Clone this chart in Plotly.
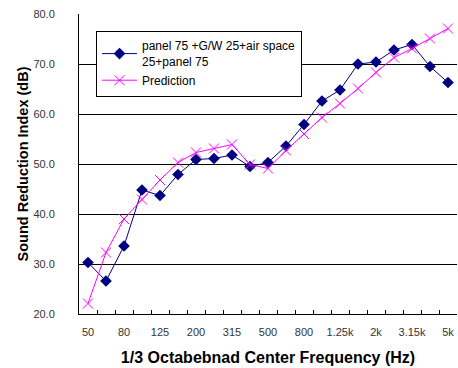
import plotly.graph_objects as go

freqs = ["50", "63", "80", "100", "125", "160", "200", "250", "315", "400", "500",
         "630", "800", "1k", "1.25k", "1.6k", "2k", "2.5k", "3.15k", "4k", "5k"]
measured = [30.3, 26.6, 33.6, 44.8, 43.7, 47.9, 50.9, 51.1, 51.8, 49.5, 50.3,
            53.6, 57.9, 62.6, 64.8, 70.0, 70.4, 72.8, 73.9, 69.5, 66.3]
prediction = [22.1, 32.3, 39.0, 42.9, 46.8, 50.3, 52.3, 53.1, 53.9, 49.9, 49.1,
              52.7, 56.0, 59.3, 62.1, 65.1, 68.3, 71.3, 73.1, 75.1, 77.1]
tick_text = [f if i % 2 == 0 else "" for i, f in enumerate(freqs)]

fig = go.Figure()
fig.add_trace(go.Scatter(
    x=freqs, y=measured, mode="lines+markers",
    name="panel 75 +G/W 25+air space<br>25+panel 75",
    line=dict(color="#000080", width=1),
    marker=dict(symbol="diamond", size=9, color="#000080"),
))
fig.add_trace(go.Scatter(
    x=freqs, y=prediction, mode="lines+markers", name="Prediction",
    line=dict(color="#FF00FF", width=1),
    marker=dict(symbol="x-thin", size=10, color="#FF00FF",
                line=dict(color="#FF00FF", width=1)),
))

fig.update_layout(
    width=458, height=368,
    margin=dict(l=79, r=1, t=14, b=54),
    paper_bgcolor="white", plot_bgcolor="white",
    font=dict(family="Liberation Sans, Arial, sans-serif", size=11, color="#333333"),
    showlegend=True,
    legend=dict(x=0.045, y=0.945, xanchor="left", yanchor="top",
                bgcolor="white", bordercolor="black", borderwidth=1,
                font=dict(size=12, color="black"), tracegroupgap=0,
                itemwidth=35),
    xaxis=dict(
        type="category", categoryorder="array", categoryarray=freqs,
        range=[-0.5, 20.5],
        tickmode="array", tickvals=freqs, ticktext=tick_text, tickangle=0,
        tickson="boundaries", ticks="inside", ticklen=4, tickcolor="black",
        ticklabelstandoff=8,
        showgrid=False, showline=True, linecolor="black", linewidth=1,
        zeroline=False,
        title=dict(text="<b>1/3 Octabebnad Center Frequency (Hz)</b>",
                   font=dict(size=16, color="black"), standoff=14),
        tickfont=dict(size=11, color="#333333"),
    ),
    yaxis=dict(
        range=[20, 80], dtick=10, tickformat=".1f",
        showgrid=True, gridcolor="black", gridwidth=1,
        showline=True, linecolor="black", linewidth=1,
        ticks="", zeroline=False, ticklabelstandoff=21,
        title=dict(text="<b>Sound Reduction Index (dB)</b>",
                   font=dict(size=14.5, color="black"), standoff=1),
        tickfont=dict(size=11, color="#333333"),
    ),
)

fig.write_html("out.html")
